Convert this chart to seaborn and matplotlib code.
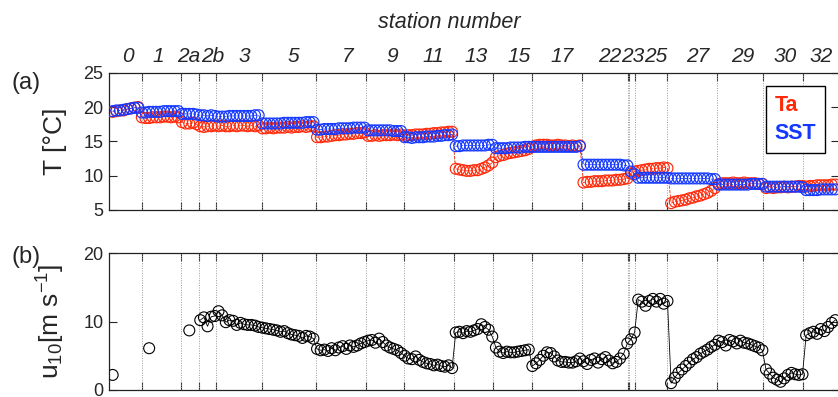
#import libraries
import numpy as np
import pandas as pd
import matplotlib
matplotlib.use("Agg")
import matplotlib.pyplot as plt
import seaborn as sns
from matplotlib.lines import Line2D

nan = np.nan

#one sample per hour along the cruise track
hours = np.arange(1, 200)

#station labels (top axis) and station boundaries (dotted lines)
station_names = ["0", "1", "2a", "2b", "3", "5", "7", "9", "11", "13", "15",
                 "17", "22", "23", "25", "27", "29", "30", "32"]
station_pos = [5.1, 13.5, 21.8, 28.4, 37.0, 50.4, 65.5, 77.5, 88.8, 100.7, 112.3,
               124.0, 137.3, 143.6, 149.9, 161.4, 173.6, 185.2, 195.1]
station_edges = [9, 19.6, 24.6, 29.2, 42.0, 56.6, 70.3, 80.8, 94.5, 105.3, 115.9,
                 129.5, 142.1, 142.5, 144.1, 153.0, 166.5, 179.3, 190.1]

#air temperature
ta = [19.3, 19.4, 19.5, 19.5, 19.7, 19.8, 19.9, 20.0,
      18.5, 18.4, 18.4, 18.5, 18.5, 18.5, 18.6, 18.6, 18.5, 18.6, 18.5,
      17.8, 17.6, 17.6, 17.7, 17.5,
      17.2, 17.1, 17.2, 17.2, 17.3,
      17.2, 17.3, 17.2, 17.2, 17.3, 17.2, 17.3, 17.3, 17.2, 17.3, 17.2, 17.3,
      16.9, 16.9, 17.0, 16.9, 17.0, 17.0, 17.0, 17.1, 17.0, 17.1, 17.1, 17.2, 17.1, 17.2, 17.2,
      15.6, 15.6, 15.7, 15.7, 15.8, 15.9, 15.9, 16.0, 16.0, 16.1, 16.1, 16.2, 16.2, 16.3,
      15.8, 15.8, 15.9, 15.8, 15.9, 15.9, 15.9, 16.0, 15.9, 16.0,
      15.8, 15.9, 15.9, 16.0, 16.0, 16.0, 16.1, 16.1, 16.2, 16.2, 16.3, 16.3, 16.4, 16.4,
      11.0, 10.9, 10.8, 10.7, 10.7, 10.8, 10.8, 11.0, 11.2, 11.5, 11.9,
      12.7, 12.9, 13.0, 13.2, 13.3, 13.4, 13.5, 13.6, 13.7, 13.9,
      14.2, 14.4, 14.5, 14.5, 14.5, 14.4, 14.4, 14.5, 14.4, 14.4, 14.3, 14.4, 14.3, 14.4,
      9.0, 9.1, 9.1, 9.2, 9.2, 9.2, 9.3, 9.3, 9.3, 9.4, 9.4, 9.5, 9.6,
      10.3, 10.6,
      10.7, 10.8, 10.9, 11.0, 11.0, 11.1, 11.1, 11.2, 11.1,
      6.0, 6.2, 6.3, 6.4, 6.5, 6.7, 6.8, 7.0, 7.1, 7.3, 7.5, 7.8, 8.2,
      8.8, 8.9, 8.9, 8.9, 9.0, 8.9, 8.9, 9.0, 8.9, 8.9, 8.9, 8.8, 8.8,
      8.2, 8.3, 8.2, 8.3, 8.3, 8.4, 8.3, 8.4, 8.4, 8.5, 8.5,
      8.4, 8.5, 8.5, 8.6, 8.6, 8.6, 8.6, 8.7, 8.7]

#sea surface temperature
sst = [19.4, 19.5, 19.5, 19.6, 19.7, 19.8, 19.9, 19.9,
       19.2, 19.2, 19.3, 19.3, 19.3, 19.3, 19.4, 19.4, 19.4, 19.4, 19.4,
       19.0, 19.0, 19.0, 19.0, 18.9,
       18.8, 18.8, 18.7, 18.8, 18.7,
       18.6, 18.6, 18.6, 18.7, 18.7, 18.7, 18.7, 18.7, 18.7, 18.7, 18.8, 18.8,
       17.6, 17.6, 17.6, 17.6, 17.6, 17.6, 17.7, 17.7, 17.7, 17.7, 17.7, 17.7, 17.8, 17.8, 17.8,
       16.7, 16.7, 16.8, 16.8, 16.8, 16.8, 16.9, 16.9, 16.9, 16.9, 17.0, 17.0, 17.0, 17.0,
       16.6, 16.6, 16.6, 16.6, 16.6, 16.6, 16.6, 16.5, 16.5, 16.5,
       15.6, 15.6, 15.5, 15.6, 15.6, 15.6, 15.7, 15.7, 15.7, 15.8, 15.8, 15.9, 15.9, 16.0,
       14.3, 14.3, 14.4, 14.4, 14.4, 14.4, 14.4, 14.4, 14.4, 14.5, 14.5,
       14.0, 14.0, 14.0, 14.0, 14.1, 14.1, 14.1, 14.1, 14.2, 14.2,
       14.2, 14.2, 14.2, 14.2, 14.2, 14.2, 14.2, 14.2, 14.2, 14.2, 14.2, 14.2, 14.2, 14.3,
       11.6, 11.6, 11.6, 11.6, 11.6, 11.6, 11.6, 11.6, 11.6, 11.6, 11.6, 11.5, 11.5,
       10.6, 10.2,
       9.7, 9.7, 9.7, 9.7, 9.7, 9.7, 9.7, 9.7, 9.7,
       9.6, 9.6, 9.6, 9.6, 9.6, 9.6, 9.6, 9.6, 9.6, 9.6, 9.6, 9.5, 9.5,
       8.7, 8.7, 8.7, 8.7, 8.7, 8.7, 8.7, 8.7, 8.7, 8.8, 8.8, 8.8, 8.8,
       8.4, 8.4, 8.4, 8.4, 8.4, 8.4, 8.4, 8.4, 8.4, 8.4, 8.3,
       7.9, 7.9, 7.9, 7.9, 8.0, 8.0, 8.0, 8.0, 8.0]

#10 m wind speed
u10 = [2.2, nan, nan, nan, nan, nan, nan, nan,
       nan, nan, 6.1, nan, nan, nan, nan, nan, nan, nan, nan,
       nan, nan, 8.7, nan, nan,
       10.2, 10.6, 9.3, 10.7, 10.8,
       11.5, 10.9, 9.9, 10.2, 10.1, 9.5, 9.8, 9.6, 9.5, 9.5, 9.4, 9.2,
       9.1, 9.0, 8.9, 8.8, 8.7, 8.5, 8.6, 8.3, 8.1, 8.0, 7.9, 7.6, 7.9, 7.8, 7.5,
       6.0, 5.8, 5.9, 5.7, 6.1, 5.8, 6.2, 6.4, 6.0, 6.5, 6.3, 6.5, 6.8, 7.0,
       7.2, 7.3, 6.9, 7.5, 7.0, 6.5, 6.2, 6.0, 5.8, 5.4,
       5.0, 4.6, 4.5, 4.9, 4.4, 4.1, 3.9, 3.8, 3.6, 3.7, 3.5, 3.4, 3.6, 3.2,
       8.4, 8.5, 8.3, 8.6, 8.5, 8.7, 8.9, 9.6, 9.2, 8.8, 7.8,
       6.2, 5.6, 5.4, 5.6, 5.5, 5.5, 5.6, 5.7, 5.8, 5.9,
       3.5, 3.9, 4.4, 5.0, 5.5, 5.4, 4.9, 4.3, 4.1, 4.1, 4.0, 4.0, 4.2, 4.6,
       4.2, 3.8, 4.4, 4.6, 4.0, 4.5, 4.8, 4.3, 3.9, 4.1, 4.6, 5.3, 6.8,
       7.4, 8.4,
       13.2, 12.9, 12.3, 13.0, 13.3, 12.9, 13.3, 12.6, 13.0,
       1.0, 1.8, 2.5, 3.0, 3.5, 4.0, 4.5, 4.8, 5.3, 5.6, 5.9, 6.3, 6.6,
       7.2, 7.0, 6.5, 7.3, 7.1, 6.8, 7.2, 6.9, 6.8, 6.6, 6.4, 6.2, 5.8,
       3.0, 2.4, 1.8, 1.5, 1.2, 1.7, 2.2, 2.5, 2.3, 2.2, 2.3,
       8.0, 8.3, 8.5, 8.2, 8.9, 8.6, 9.2, 9.8, 10.2]

df = pd.DataFrame({"hour": hours, "Ta": ta, "SST": sst, "u10": u10})
print(df.shape)

RED = "#ff2a0a"
BLUE = "#1438ff"

sns.set_style("ticks")
plt.rcParams["font.family"] = ["Liberation Sans", "DejaVu Sans"]
plt.rcParams["mathtext.fontset"] = "custom"
plt.rcParams["mathtext.rm"] = "Liberation Sans"
plt.rcParams["mathtext.it"] = "Liberation Sans:italic"

fig = plt.figure(figsize=(8.38, 3.97), dpi=100)
ax1 = fig.add_axes([109/838, 1-210/397, 730/838, 137.3/397])
ax2 = fig.add_axes([109/838, 1-390/397, 730/838, 137/397])

#panel a: temperatures
ax1.plot(df["hour"], df["Ta"], ls="--", lw=0.6, color=RED, zorder=2)
sns.scatterplot(data=df, x="hour", y="Ta", ax=ax1, marker="o", s=62,
                facecolor="none", edgecolor=RED, linewidth=0.85, zorder=3)
ax1.plot(df["hour"], df["SST"], ls="--", lw=0.6, color=BLUE, zorder=2)
sns.scatterplot(data=df, x="hour", y="SST", ax=ax1, marker="o", s=62,
                facecolor="none", edgecolor=BLUE, linewidth=0.85, zorder=3)

#panel b: wind speed
ax2.plot(df["hour"], df["u10"], ls="-", lw=0.6, color="black", zorder=2)
sns.scatterplot(data=df, x="hour", y="u10", ax=ax2, marker="o", s=62,
                facecolor="none", edgecolor="black", linewidth=0.8, zorder=3)

for ax in [ax1, ax2]:
    ax.set_xlim(0, 200)
    for e in station_edges:
        ax.axvline(e, color="#9a9a9a", ls=(0, (1, 1.5)), lw=0.7, zorder=1)
    ax.set_xticks(station_edges)
    ax.set_xticklabels([])
    ax.tick_params(axis="x", direction="in", top=True, bottom=True,
                   length=6, width=0.8, labelbottom=False)
    ax.tick_params(axis="y", direction="in", left=True, right=True,
                   length=6, width=0.8, labelsize=13, pad=4)
    for s in ax.spines.values():
        s.set_linewidth(0.9)
        s.set_color("#222222")
    ax.set_xlabel("")

ax1.set_ylim(5, 25)
ax1.set_yticks([5, 10, 15, 20, 25])
ax2.set_ylim(0, 20)
ax2.set_yticks([0, 10, 20])

ax1.set_ylabel("T [°C]", fontsize=19)
ax1.yaxis.set_label_coords(-0.058, 0.5)
ax2.set_ylabel(r"u$_{10}$[m s$^{-1}$]", fontsize=19)
ax2.yaxis.set_label_coords(-0.058, 0.5)

#station names along the top
for name, pos in zip(station_names, station_pos):
    ax1.text(pos, 1.08, name, transform=ax1.get_xaxis_transform(),
             ha="center", va="baseline", fontsize=15, fontstyle="italic")
fig.text(449/838, 1-28.3/397, "station number", ha="center", va="baseline",
         fontsize=15.5, fontstyle="italic")

fig.text(26/838, 1-83/397, "(a)", ha="center", va="center", fontsize=17)
fig.text(26/838, 1-257/397, "(b)", ha="center", va="center", fontsize=17)

#legend as coloured text in a box
handles = [Line2D([], [], ls="none"), Line2D([], [], ls="none")]
leg = ax1.legend(handles, ["Ta", "SST"], loc="upper right",
                 bbox_to_anchor=(0.981, 0.903), borderaxespad=0,
                 handlelength=0, handletextpad=0, labelcolor=[RED, BLUE],
                 prop={"weight": "bold", "size": 15.5}, frameon=True,
                 fancybox=False, edgecolor="black", framealpha=1,
                 borderpad=0.4, labelspacing=0.35)
leg.get_frame().set_linewidth(1.0)

plt.savefig("out.png", dpi=100)
